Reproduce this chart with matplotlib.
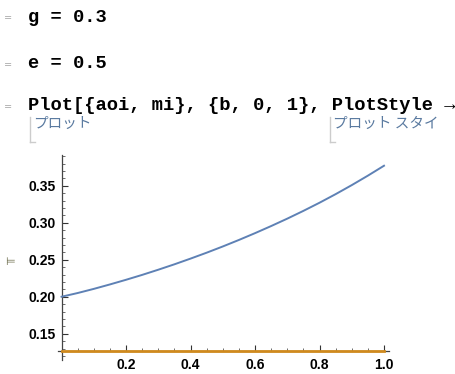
import matplotlib
matplotlib.use("Agg")
import matplotlib.pyplot as plt
from matplotlib.ticker import MultipleLocator, FixedLocator

# data
b_vals = [0.0, 0.05, 0.1, 0.15, 0.2, 0.25, 0.3, 0.35, 0.4, 0.45, 0.5,
          0.55, 0.6, 0.65, 0.7, 0.75, 0.8, 0.85, 0.9, 0.95, 1.0]
aoi_vals = [0.2000, 0.2050, 0.2106, 0.2166, 0.2229, 0.2295, 0.2365, 0.2438, 0.2515, 0.2595, 0.2679,
            0.2767, 0.2859, 0.2955, 0.3055, 0.3160, 0.3270, 0.3386, 0.3508, 0.3636, 0.3770]
mi_vals = [0.127] * len(b_vals)
x_ticks = [0.2, 0.4, 0.6, 0.8, 1.0]
x_tick_labels = ["0.2", "0.4", "0.6", "0.8", "1.0"]
y_ticks = [0.15, 0.20, 0.25, 0.30, 0.35]
y_tick_labels = ["0.15", "0.20", "0.25", "0.30", "0.35"]
code_lines = ["g = 0.3", "e = 0.5", "Plot[{aoi, mi}, {b, 0, 1}, PlotStyle \u2192"]
jp_labels = ["プロット", "プロット スタイ"]

W, H = 455, 374
fig = plt.figure(figsize=(W / 100, H / 100), dpi=100)

def fx(px):
    return px / W

def fy(py):
    return 1 - py / H

# axes region in pixels
L, R, T, B = 58, 389, 155, 360
ax = fig.add_axes([fx(L), fy(B), fx(R) - fx(L), fy(T) - fy(B)])
ax.set_xlim(-0.011, 1.0155)
ax.set_ylim(0.1145, 0.3915)
ax.set_facecolor("none")

ax.plot(b_vals, aoi_vals, color="#5E81B5", lw=1.4, zorder=3, solid_joinstyle="round")
ax.plot(b_vals, mi_vals, color="#D08A1E", lw=2.0, zorder=4, clip_on=False)

for s in ["top", "right"]:
    ax.spines[s].set_visible(False)
ax.spines["left"].set_position(("data", 0))
ax.spines["bottom"].set_position(("data", 0.127))
for s in ["left", "bottom"]:
    ax.spines[s].set_color("#444444")
    ax.spines[s].set_linewidth(0.9)

ax.xaxis.set_major_locator(FixedLocator(x_ticks))
ax.set_xticklabels(x_tick_labels)
ax.yaxis.set_major_locator(FixedLocator(y_ticks))
ax.set_yticklabels(y_tick_labels)
ax.xaxis.set_minor_locator(MultipleLocator(0.05))
ax.yaxis.set_minor_locator(MultipleLocator(0.01))
ax.tick_params(axis="both", which="major", direction="in", length=4.5, width=0.8, color="#333333")
ax.tick_params(axis="both", which="minor", direction="in", length=2.5, width=0.6, color="#555555")
ax.tick_params(axis="y", pad=4)
ax.tick_params(axis="x", pad=5)
for lab in ax.get_xticklabels() + ax.get_yticklabels():
    lab.set_fontfamily("Liberation Sans")
    lab.set_fontweight("bold")
    lab.set_fontsize(10)
    lab.set_color("#000000")

# notebook text
code_font = dict(family="Liberation Mono", weight="bold", fontsize=13.5, color="black", va="center")
fig.text(fx(28), fy(17), code_lines[0], **code_font)
fig.text(fx(28), fy(64), code_lines[1], **code_font)
fig.text(fx(28), fy(105), code_lines[2], **code_font)

# cell markers
for py in [18, 65, 107]:
    fig.text(fx(4), fy(py), "=", fontsize=7, color="#aaaaaa", va="center", family="DejaVu Sans")
fig.text(fx(5), fy(262), "\u22a8", fontsize=8, color="#6b6b4a", va="center", family="DejaVu Sans")

# Japanese labels with brackets
jp_font = dict(family=["Noto Sans CJK JP", "DejaVu Sans"], fontsize=10.5, color="#5a7aa0", va="center")
fig.text(fx(33), fy(124), jp_labels[0], **jp_font)
fig.text(fx(333), fy(124), jp_labels[1], **jp_font)
for px in [30, 330]:
    fig.add_artist(plt.Line2D([fx(px), fx(px)], [fy(117), fy(142)], color="#cccccc", lw=1.0))
    fig.add_artist(plt.Line2D([fx(px), fx(px + 5)], [fy(142), fy(142)], color="#cccccc", lw=1.0))

fig.savefig("out.png", dpi=100)
